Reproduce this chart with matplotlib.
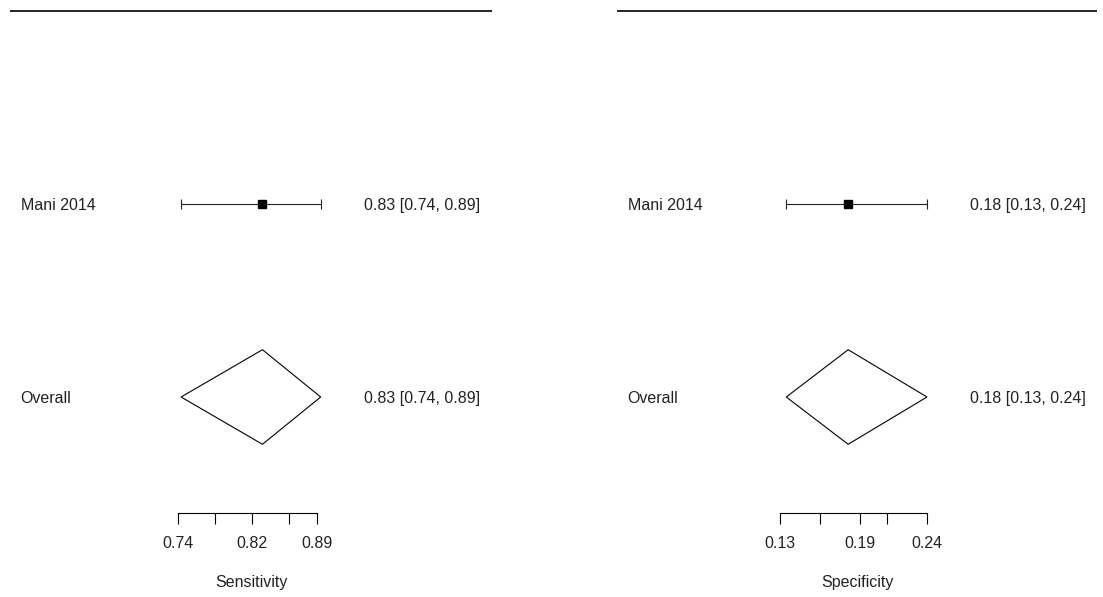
import matplotlib
matplotlib.use("Agg")
import matplotlib.pyplot as plt
import matplotlib.transforms as mtransforms

plt.rcParams['font.family'] = ['Liberation Sans', 'DejaVu Sans']

# ---------------- data ----------------
study_labels = ["Mani 2014"]
overall_label = "Overall"

sens_est = [0.831]
sens_lo = [0.743]
sens_hi = [0.894]
sens_overall = (0.831, 0.743, 0.894)
sens_ticks = [0.74, 0.78, 0.82, 0.86, 0.89]
sens_ticklabels = ["0.74", "", "0.82", "", "0.89"]

spec_est = [0.181]
spec_lo = [0.1347]
spec_hi = [0.240]
spec_overall = (0.181, 0.1347, 0.240)
spec_ticks = [0.13, 0.16, 0.19, 0.21, 0.24]
spec_ticklabels = ["0.13", "", "0.19", "", "0.24"]

axis_titles = ["Sensitivity", "Specificity"]

# ---------------- layout ----------------
W, H, DPI = 1103, 597, 100
fig = plt.figure(figsize=(W / DPI, H / DPI), dpi=DPI)
fig.patch.set_facecolor("white")

FS = 11.5
TXT = "#222222"
row_px = 96.5          # pixels per row
study_px = 204.0       # pixel y of first study row (from top)
ylim = (1 - (H - study_px) / row_px, 1 + study_px / row_px)
axis_px = 512.5
text_dy = -0.02        # small visual offset for text rows

panels = [
    dict(x0=10, x1=492, t0px=178.3, t1px=317.0,
         est=sens_est, lo=sens_lo, hi=sens_hi, ov=sens_overall,
         ticks=sens_ticks, tl=sens_ticklabels, title=axis_titles[0]),
    dict(x0=617, x1=1097, t0px=780.0, t1px=927.0,
         est=spec_est, lo=spec_lo, hi=spec_hi, ov=spec_overall,
         ticks=spec_ticks, tl=spec_ticklabels, title=axis_titles[1]),
]

k = len(study_labels)
study_rows = [k - i for i in range(k)]
overall_row = -1
top_row = k + 2

for p in panels:
    t0, t1 = p["ticks"][0], p["ticks"][-1]
    scale = (p["t1px"] - p["t0px"]) / (t1 - t0)
    xlim = (t0 - (p["t0px"] - p["x0"]) / scale, t0 + (p["x1"] - p["t0px"]) / scale)

    ax = fig.add_axes([p["x0"] / W, 0, (p["x1"] - p["x0"]) / W, 1])
    ax.set_xlim(*xlim)
    ax.set_ylim(*ylim)
    ax.axis("off")

    ax.axhline(top_row, color="black", lw=1.2)

    trans = mtransforms.blended_transform_factory(ax.transAxes, ax.transData)

    for lab, r, e, l, h in zip(study_labels, study_rows, p["est"], p["lo"], p["hi"]):
        ax.errorbar([e], [r], xerr=[[e - l], [h - e]], fmt="s", ms=5.2,
                    mfc="black", mec="black", ecolor="#222222",
                    elinewidth=0.8, capsize=3.6, capthick=0.8)
        ax.text(0.022, r + text_dy, lab, transform=trans, ha="left", va="center",
                fontsize=FS, color=TXT)
        ax.text(0.976, r + text_dy, f"{e:.2f} [{l:.2f}, {h:.2f}]", transform=trans,
                ha="right", va="center", fontsize=FS, color=TXT)

    e, l, h = p["ov"]
    dh = 0.49
    ax.fill([l, e, h, e, l], [overall_row, overall_row + dh, overall_row,
                              overall_row - dh, overall_row],
            facecolor="white", edgecolor="black", lw=0.8)
    ax.text(0.022, overall_row + text_dy, overall_label, transform=trans, ha="left",
            va="center", fontsize=FS, color=TXT)
    ax.text(0.976, overall_row + text_dy, f"{e:.2f} [{l:.2f}, {h:.2f}]", transform=trans,
            ha="right", va="center", fontsize=FS, color=TXT)

    # x axis
    axx = fig.add_axes([p["x0"] / W, (H - axis_px) / H, (p["x1"] - p["x0"]) / W, 0.0005])
    axx.set_xlim(*xlim)
    axx.set_facecolor("none")
    for s in ["top", "left", "right"]:
        axx.spines[s].set_visible(False)
    axx.spines["bottom"].set_bounds(t0, t1)
    axx.spines["bottom"].set_linewidth(0.8)
    axx.set_yticks([])
    axx.set_xticks(p["ticks"])
    axx.set_xticklabels(p["tl"])
    axx.tick_params(axis="x", direction="out", length=8, width=0.8,
                    pad=9, labelsize=FS, labelcolor=TXT)
    axx.set_xlabel(p["title"], fontsize=FS, labelpad=17.5, color=TXT)

fig.savefig("out.png", dpi=DPI, facecolor="white")
